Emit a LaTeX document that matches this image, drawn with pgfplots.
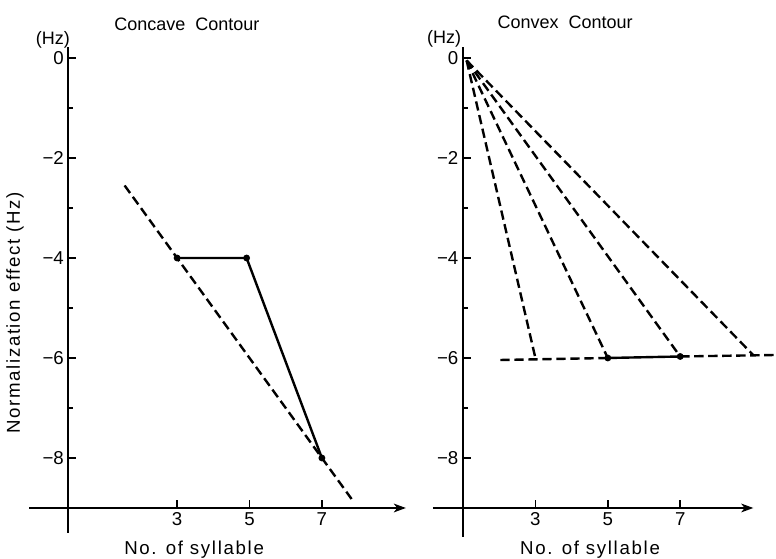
\documentclass[border=0pt]{standalone}
\usepackage{fontspec}
\setmainfont{Liberation Sans}
\newfontfamily\spaced[LetterSpace=9]{Liberation Sans}
\usepackage{pgfplots}
\pgfplotsset{compat=1.18}
\usetikzlibrary{arrows.meta}

\pgfplotsset{
  syllable axis/.style={
    x=27.15pt, y=37.5pt,
    ymin=-9, ymax=0.22,
    axis x line=bottom, axis y line=left,
    x axis line style={line width=1.5pt, -{Stealth[length=9pt,width=6.5pt,inset=2.5pt]}},
    y axis line style={line width=1.5pt, -},
    xtick={3,5,7},
    ytick={-8,-6,-4,-2,0},
    yticklabels={−8,−6,−4,−2,0},
    minor ytick={-7,-5,-3,-1},
    tick align=inside,
    major tick length=6pt,
    minor tick length=3.5pt,
    tick style={line width=1.1pt, black},
    /pgf/number format/assume math mode=true,
    ticklabel style={font=\fontsize{14}{16}\selectfont},
    clip=false,
  },
  dashedline/.style={line width=1.8pt, dash pattern=on 7pt off 3.5pt},
  solidline/.style={line width=1.8pt},
  dot/.style={mark=*, mark size=1.6pt, mark options={solid}},
}

\begin{document}
\begin{tikzpicture}
\useasboundingbox (0,0) rectangle (582pt,419.25pt);

% Concave contour
\begin{axis}[syllable axis, xmin=0, xmax=9.32,
  at={(51.375pt,38.25pt)}, anchor=south west]
  \addplot[dashedline] coordinates {(1.55,-2.55) (7.82,-8.82)};
  \addplot[solidline, dot] coordinates {(3,-4) (4.92,-4) (7,-8)};
  \draw[line width=1.5pt] (axis cs:-1.09,-9) -- (axis cs:0,-9);
  \draw[line width=1.5pt] (axis cs:0,-9) -- (axis cs:0,-9.5);
  \node[font=\fontsize{13.5}{15}\selectfont] at (axis cs:3.27,0.68) {Concave\ \ Contour};
  \node[font=\fontsize{13.5}{15}\selectfont] at (axis cs:-0.43,0.36) {(Hz)};
  \node[font=\fontsize{14}{16}\spaced] at (axis cs:3.47,-9.84) {No. of syllable};
  \node[font=\fontsize{14}{16}\spaced, rotate=90] at (axis cs:-1.48,-5.1) {Normalization effect (Hz)};
\end{axis}

% Convex contour
\begin{axis}[syllable axis, xmin=1, xmax=9.02,
  at={(347.25pt,38.25pt)}, anchor=south west]
  \addplot[dashedline] coordinates {(1.1,-0.05) (3,-6)};
  \addplot[dashedline] coordinates {(1.1,-0.05) (5,-6)};
  \addplot[dashedline] coordinates {(1.1,-0.05) (7,-5.97)};
  \addplot[dashedline] coordinates {(1.1,-0.05) (9.03,-5.95)};
  \addplot[dashedline] coordinates {(2.03,-6.04) (5,-6)};
  \addplot[solidline, dot] coordinates {(5,-6) (7,-5.97)};
  \addplot[dashedline] coordinates {(7,-5.97) (9.64,-5.94)};
  \draw[line width=1.5pt] (axis cs:0.17,-9) -- (axis cs:1,-9);
  \draw[line width=1.5pt] (axis cs:1,-9) -- (axis cs:1,-9.58);
  \node[font=\fontsize{13.5}{15}\selectfont] at (axis cs:3.82,0.72) {Convex\ \ Contour};
  \node[font=\fontsize{13.5}{15}\selectfont] at (axis cs:0.48,0.38) {(Hz)};
  \node[font=\fontsize{14}{16}\spaced] at (axis cs:4.51,-9.84) {No. of syllable};
\end{axis}
\end{tikzpicture}
\end{document}
